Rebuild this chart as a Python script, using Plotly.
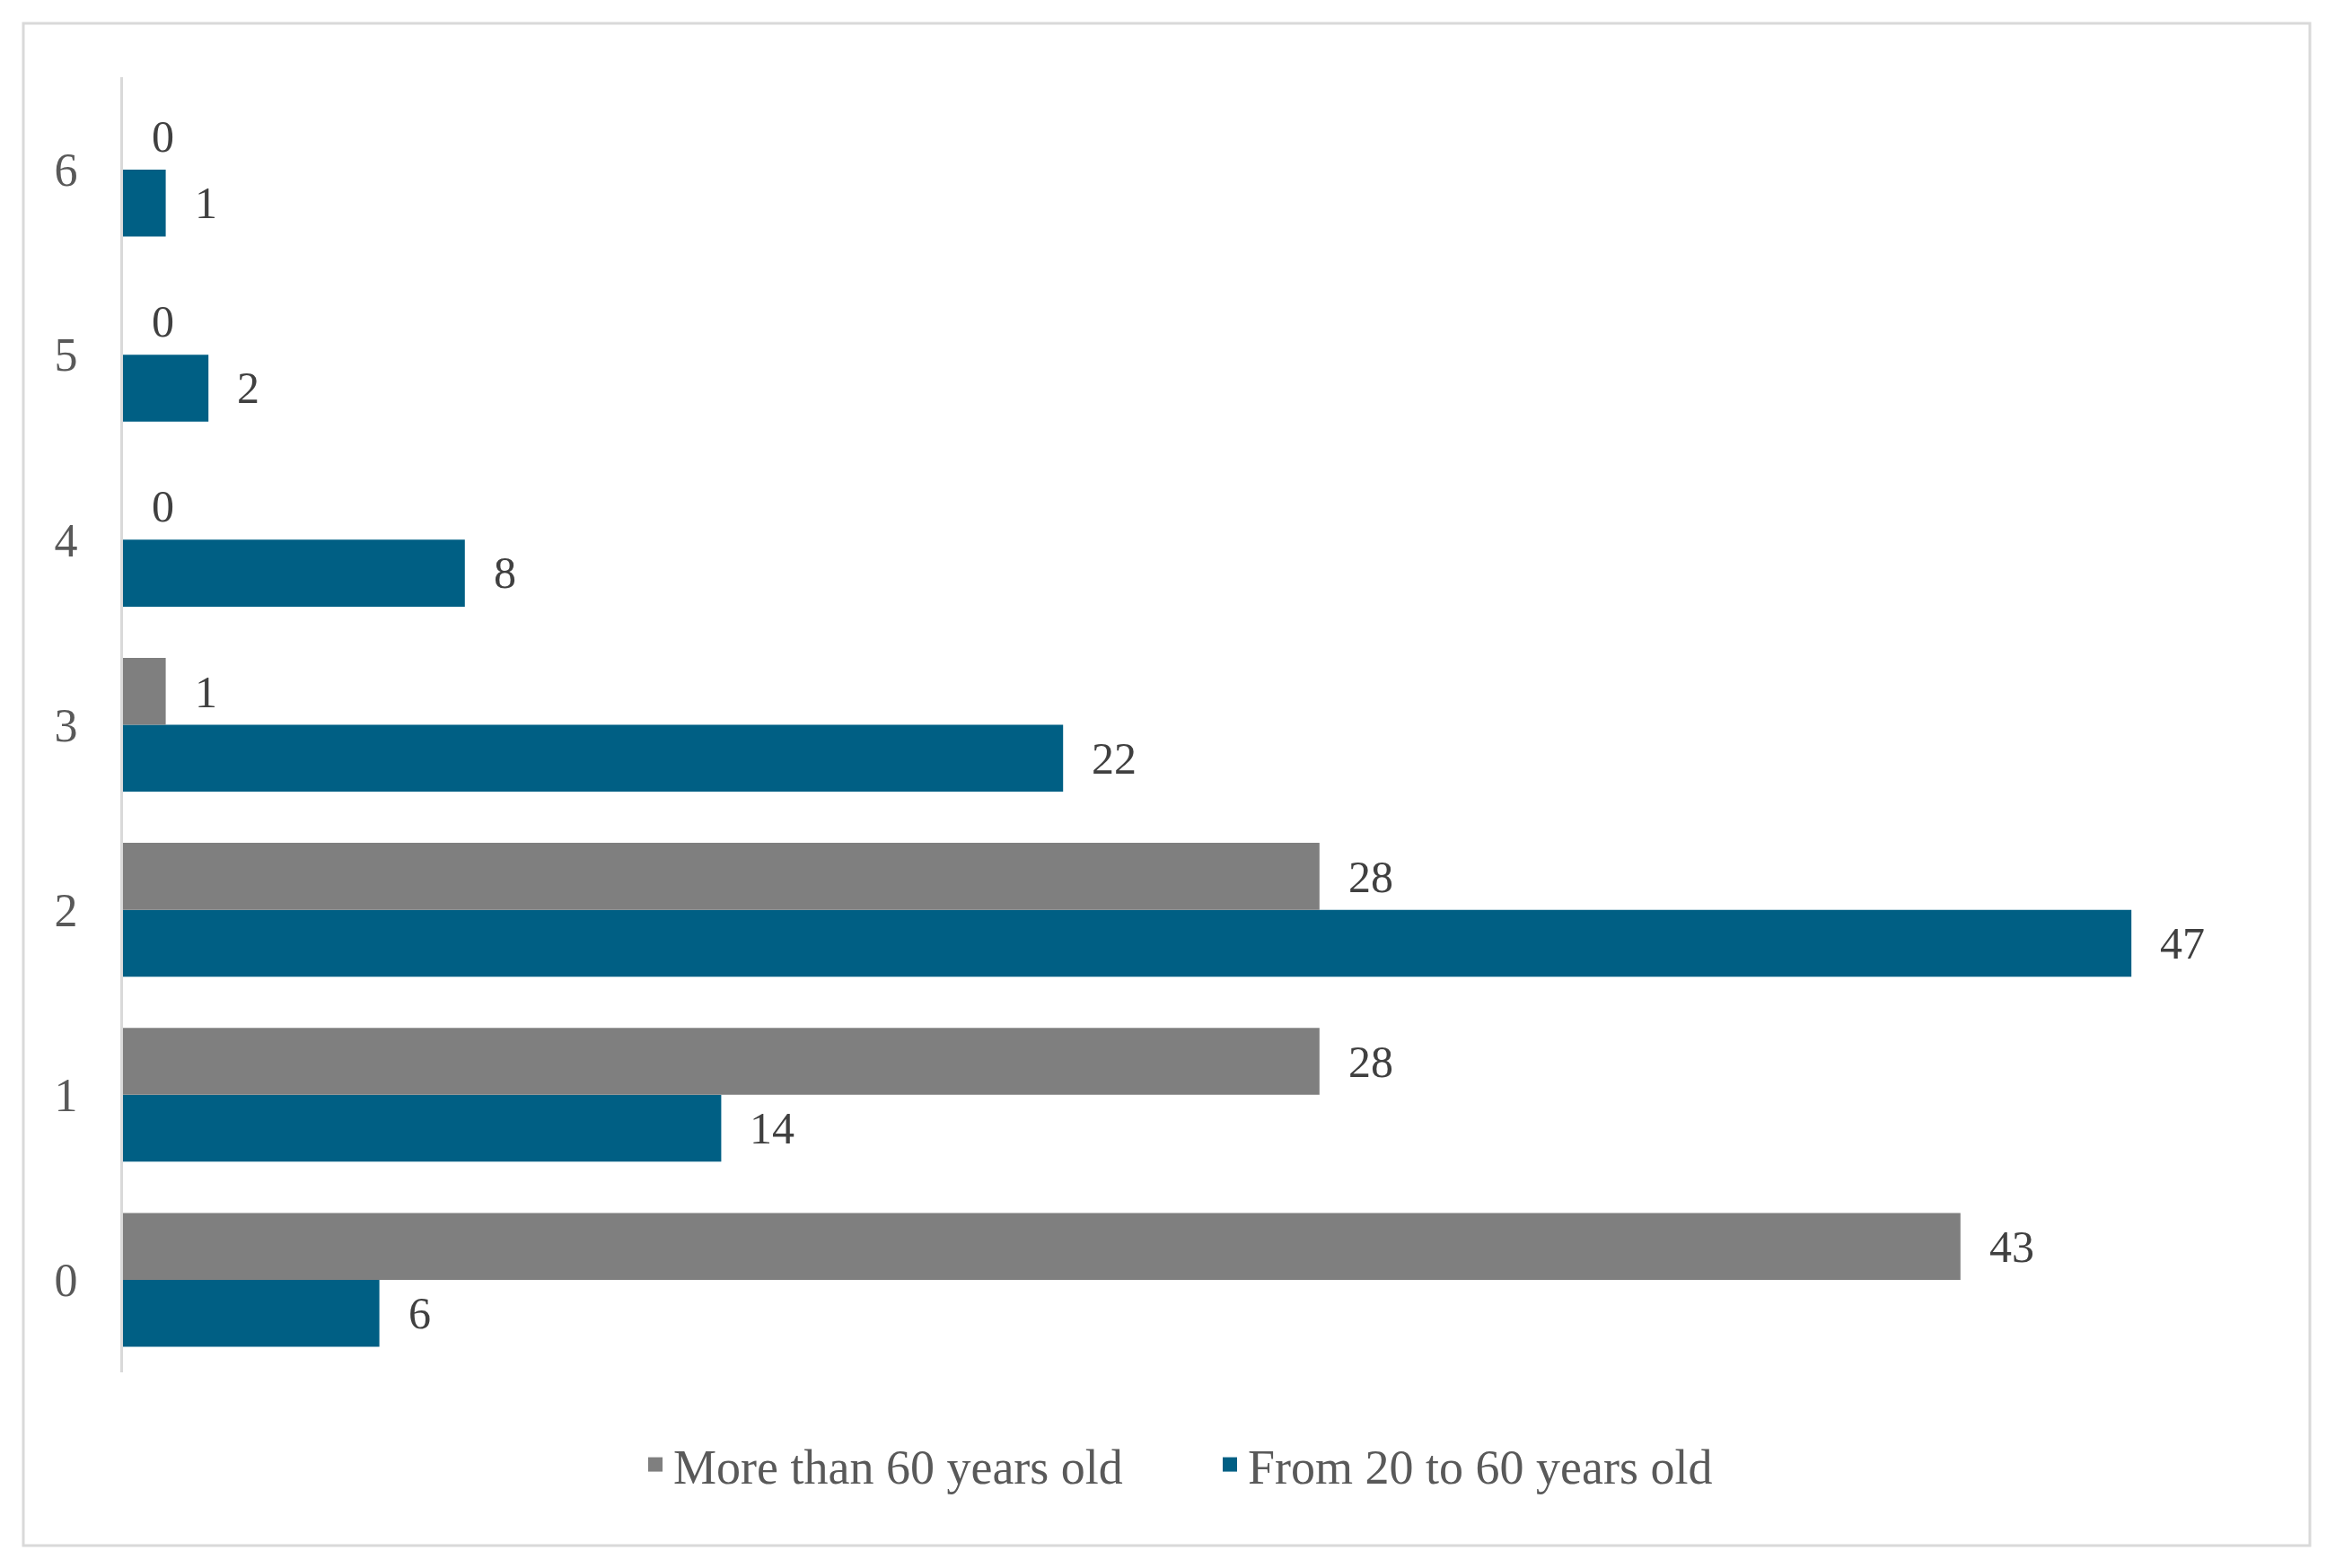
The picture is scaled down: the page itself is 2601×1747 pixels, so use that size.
import plotly.graph_objects as go

categories = ["0", "1", "2", "3", "4", "5", "6"]
more_than_60 = [43, 28, 28, 1, 0, 0, 0]
from_20_to_60 = [6, 14, 47, 22, 8, 2, 1]
series_names = ["More than 60 years old", "From 20 to 60 years old"]

GREY = "#7F7F7F"
BLUE = "#005F84"
FONT = "Liberation Serif"

OFF = 8  # page body margin
W, H = 2601 - 2 * OFF, 1747 - 2 * OFF
L = 137 - OFF
T = 86 - OFF
R = W - (2517 - OFF)
B = H - (1529 - OFF)

fig = go.Figure()
fig.add_trace(go.Bar(
    y=categories, x=from_20_to_60, orientation="h", name=series_names[1],
    marker=dict(color=BLUE, line=dict(width=0)), showlegend=False,
))
fig.add_trace(go.Bar(
    y=categories, x=more_than_60, orientation="h", name=series_names[0],
    marker=dict(color=GREY, line=dict(width=0)), showlegend=False,
))
# legend entries with larger square swatches
fig.add_trace(go.Scatter(x=[None], y=[None], mode="markers", name=series_names[0],
                         marker=dict(symbol="square", size=16, color=GREY), legendrank=1))
fig.add_trace(go.Scatter(x=[None], y=[None], mode="markers", name=series_names[1],
                         marker=dict(symbol="square", size=16, color=BLUE), legendrank=2))

ann = []
for c, v in zip(categories, more_than_60):
    ann.append(dict(x=v, y=c, xref="x", yref="y", text=str(v), showarrow=False,
                    xanchor="left", yanchor="middle", xshift=30, yshift=37,
                    font=dict(family=FONT, size=50, color="#404040")))
for c, v in zip(categories, from_20_to_60):
    ann.append(dict(x=v, y=c, xref="x", yref="y", text=str(v), showarrow=False,
                    xanchor="left", yanchor="middle", xshift=30, yshift=-37,
                    font=dict(family=FONT, size=50, color="#404040")))

pw = W - L - R
ph = H - T - B
def px_x(p):
    return (p - OFF - L) / pw
def px_y(p):
    return (H - B - (p - OFF)) / ph

fig.update_layout(
    width=W, height=H,
    margin=dict(l=L, r=R, t=T, b=B, autoexpand=False),
    paper_bgcolor="white", plot_bgcolor="white",
    barmode="group", bargap=0.277, bargroupgap=0,
    annotations=ann,
    showlegend=True,
    legend=dict(orientation="h", x=px_x(1350), y=px_y(1632), xanchor="center", yanchor="middle",
                font=dict(family=FONT, size=54, color="#595959"), entrywidth=595,
                itemsizing="trace"),
    shapes=[dict(type="rect", xref="paper", yref="paper",
                 x0=px_x(26), x1=px_x(2573), y0=px_y(1722), y1=px_y(26),
                 line=dict(color="#D9D9D9", width=3), fillcolor="rgba(0,0,0,0)", layer="below")],
    xaxis=dict(range=[0, 50], showgrid=False, showticklabels=False, zeroline=False,
               showline=False, ticks=""),
    yaxis=dict(showgrid=False, showline=True, linecolor="#D9D9D9", linewidth=3,
               ticks="", ticklabelstandoff=37,
               tickfont=dict(family=FONT, size=52, color="#595959"),
               range=[-0.5, 6.5]),
)

fig.write_html("out.html")
